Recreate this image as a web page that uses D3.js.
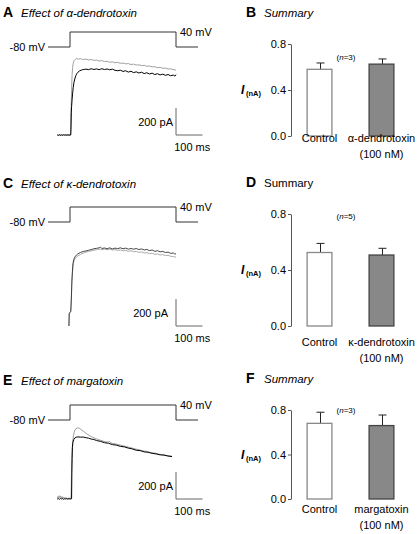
<!DOCTYPE html>
<html><head><meta charset="utf-8">
<script src="https://cdn.jsdelivr.net/npm/d3@7"></script>
<style>body{margin:0;background:#fff}svg{display:block}text{font-family:"Liberation Sans",Arial,sans-serif}</style>
</head><body>
<svg id="c" width="419" height="534"></svg>
<script>
// ---------- DATA ----------
// Voltage command (time ms, mV)
const voltageTime = [-83, 0, 0, 400, 400, 483];
const voltageMv   = [-80, -80, 40, 40, -80, -80];

// Current traces [time ms, pA]
const currentA_gray = [[-48,1],[-36,-1],[-24,1],[-12,-1],[0,1],[2,0],[3,160],[4,165],[5,250],[6,330],[7,400],[8,450],[10,500],[12,530],[15,550],[20,560],[26,566],[32,562],[40,565],[50,559],[60,562],[70,556],[80,559],[90,553],[100,555],[110,548],[120,551],[130,544],[140,546],[150,539],[160,542],[170,535],[180,538],[190,531],[200,533],[210,527],[220,529],[230,522],[240,525],[250,518],[260,520],[270,514],[280,516],[290,509],[300,511],[310,504],[320,506],[330,499],[340,501],[350,494],[360,496],[370,489],[380,490],[390,484],[400,481]];
const currentA_black = [[-48,0],[-44,-3],[-40,2],[-36,-2],[-32,1],[-28,-3],[-24,2],[-20,-1],[-16,1],[-12,-2],[-8,2],[-4,-1],[0,0],[3,1],[4,60],[5,170],[6,210],[8,265],[10,310],[12,350],[15,390],[18,415],[22,440],[26,455],[30,465],[36,475],[42,480],[50,485],[60,488],[70,484],[80,491],[90,485],[100,490],[110,484],[120,491],[130,485],[140,489],[150,483],[160,488],[170,479],[180,476],[190,480],[200,471],[210,476],[220,466],[230,472],[240,462],[250,468],[260,459],[270,465],[280,455],[290,461],[300,452],[310,458],[320,448],[330,454],[340,445],[350,451],[360,442],[370,448],[380,439],[390,444],[396,436],[400,447]];
const currentC_gray = [[-4,0],[-3,90],[0,98],[3,105],[5,190],[7,310],[9,385],[11,440],[14,475],[18,495],[24,510],[30,520],[40,530],[50,540],[60,547],[70,552],[80,557],[90,562],[100,565],[110,570],[120,565],[130,570],[140,565],[150,569],[160,563],[170,566],[180,560],[190,564],[200,557],[210,560],[220,553],[230,557],[240,550],[250,553],[260,545],[270,549],[280,541],[290,544],[300,536],[310,539],[320,531],[330,534],[340,526],[350,529],[360,521],[370,524],[380,516],[390,515],[400,509]];
const currentC_black = [[-4,0],[-3,95],[0,100],[3,110],[5,200],[7,330],[9,400],[11,460],[14,490],[18,510],[24,525],[30,535],[40,545],[50,552],[60,556],[70,561],[80,566],[90,572],[100,575],[110,579],[115,584],[120,574],[130,578],[140,572],[150,579],[160,571],[170,577],[180,573],[190,579],[200,572],[210,577],[220,569],[230,574],[240,569],[250,574],[260,566],[270,571],[280,563],[290,567],[300,558],[310,563],[320,553],[330,558],[340,549],[350,553],[360,544],[370,547],[380,538],[390,541],[396,532],[400,536]];
const currentE_gray = [[-48,5],[-45,20],[-43,8],[-40,25],[-38,10],[-35,22],[-32,6],[-30,18],[-27,5],[-24,15],[-21,4],[-18,12],[-15,3],[-12,10],[-8,2],[-4,8],[0,3],[4,5],[5,100],[6,250],[8,350],[10,420],[13,470],[17,505],[22,520],[28,527],[35,524],[45,510],[55,495],[65,481],[75,468],[85,458],[95,449],[110,438],[125,429],[140,421],[150,426],[155,414],[170,409],[185,401],[200,395],[215,387],[230,380],[245,371],[260,365],[275,357],[290,352],[305,344],[320,340],[335,332],[350,329],[365,322],[375,321],[385,316]];
const currentE_black = [[-48,0],[-44,3],[-40,-2],[-36,4],[-32,0],[-28,3],[-24,-2],[-20,2],[-16,0],[-12,3],[-8,-1],[-4,2],[0,0],[4,1],[6,2],[7,180],[8,300],[9,380],[11,420],[14,440],[18,452],[24,458],[30,460],[40,458],[50,459],[60,454],[70,451],[80,444],[90,441],[100,433],[115,427],[130,417],[145,413],[160,403],[175,399],[190,390],[205,386],[220,377],[235,371],[250,361],[265,358],[280,349],[295,346],[310,338],[325,334],[340,327],[355,325],[370,318],[385,314]];

// Scale bars
const scaleBarPa = 200, scaleBarMs = 100;

// Summary bar charts
const categoriesB = ["Control", "α-dendrotoxin"];
const meansB = [0.58, 0.625];
const semB = [0.055, 0.045];
const categoriesD = ["Control", "κ-dendrotoxin"];
const meansD = [0.525, 0.507];
const semD = [0.065, 0.048];
const categoriesF = ["Control", "margatoxin"];
const meansF = [0.68, 0.66];
const semF = [0.10, 0.095];
const tickValues = [0.0, 0.4, 0.8];
const nLabels = ["3", "5", "3"];

// ---------- DRAW ----------
const svg = d3.select("#c");
const FONT = "11px";

function title(x, y, letter, text, italic) {
  svg.append("text").attr("x", x).attr("y", y).attr("font-size", "14px").attr("font-weight", "bold").text(letter);
  svg.append("text").attr("x", x + 18).attr("y", y).attr("font-size", "11.5px")
     .attr("font-style", italic ? "italic" : "normal").text(text);
}

function tracePanel(cfg) {
  const x = d3.scaleLinear().domain([0, 400]).range([70, 176]);
  const yv = d3.scaleLinear().domain([-80, 40]).range([cfg.vBase, cfg.vBase - 15]);
  const yi = d3.scaleLinear().domain([0, 200]).range([cfg.iBase, cfg.iBase - 27]);
  const vdata = voltageTime.map((t, i) => [t, voltageMv[i]]);
  svg.append("path").datum(vdata)
    .attr("d", d3.line().x(d => x(d[0])).y(d => yv(d[1])))
    .attr("fill", "none").attr("stroke", "#333").attr("stroke-width", 1);
  svg.append("text").attr("x", 45).attr("y", yv(-80) + 4).attr("text-anchor", "end").attr("font-size", FONT).text("-80 mV");
  svg.append("text").attr("x", 180).attr("y", yv(40) + 4).attr("font-size", FONT).text("40 mV");
  const line = d3.line().x(d => x(d[0])).y(d => yi(d[1]));
  cfg.traces.forEach(tr => {
    svg.append("path").datum(tr.data).attr("d", line)
      .attr("fill", "none").attr("stroke", tr.color).attr("stroke-width", tr.w).attr("stroke-linejoin", "round");
  });
  svg.append("path").datum([[400, scaleBarPa], [400, 0], [400 + scaleBarMs, 0]])
    .attr("d", line).attr("fill", "none").attr("stroke", "#666").attr("stroke-width", 1);
  svg.append("text").attr("x", cfg.paRight).attr("y", yi(scaleBarPa / 2) + 4).attr("text-anchor", "end")
    .attr("font-size", FONT).text(scaleBarPa + " pA");
  svg.append("text").attr("x", x(400 + scaleBarMs / 2) + 3).attr("y", yi(0) + 16).attr("text-anchor", "middle")
    .attr("font-size", FONT).text(scaleBarMs + " ms");
}

function barPanel(cfg) {
  const x = d3.scaleBand().domain(cfg.cats).range([291, 410]).paddingInner(0.6).paddingOuter(0.26);
  const y = d3.scaleLinear().domain([0, 0.8]).range([cfg.y0, cfg.y8]);
  const ax = svg.append("g").attr("transform", "translate(291,0)")
    .call(d3.axisLeft(y).tickValues(tickValues).tickFormat(d3.format(".1f")).tickSize(3).tickPadding(2).tickSizeOuter(0));
  ax.select(".domain").attr("stroke", "#555");
  ax.selectAll(".tick line").attr("stroke", "#555");
  ax.selectAll(".tick text").attr("font-size", FONT).attr("fill", "#000").attr("font-family", "Liberation Sans, Arial, sans-serif");
  const yl = y(0.4);
  svg.append("text").attr("x", 241).attr("y", yl + 4).attr("font-size", "12px").attr("font-weight", "bold").attr("font-style", "italic").text("I");
  svg.append("text").attr("x", 246).attr("y", yl + 6).attr("font-size", "7.5px").attr("font-weight", "bold").text("(nA)");
  const fills = ["#fff", "#888"], strokes = ["#888", "#444"];
  cfg.cats.forEach((c, i) => {
    const cx = x(c) + x.bandwidth() / 2;
    svg.append("line").attr("x1", cx + 1).attr("x2", cx + 1).attr("y1", y(cfg.means[i])).attr("y2", y(cfg.means[i] + cfg.sem[i])).attr("stroke", "#222");
    svg.append("line").attr("x1", cx - 3).attr("x2", cx + 5).attr("y1", y(cfg.means[i] + cfg.sem[i])).attr("y2", y(cfg.means[i] + cfg.sem[i])).attr("stroke", "#222");
    svg.append("rect").attr("x", x(c)).attr("y", y(cfg.means[i])).attr("width", x.bandwidth()).attr("height", y(0) - y(cfg.means[i]))
      .attr("fill", fills[i]).attr("stroke", strokes[i]).attr("stroke-width", 1.3);
    svg.append("text").attr("x", cx).attr("y", cfg.labY).attr("text-anchor", "middle").attr("font-size", FONT).text(c);
    if (i === 1) svg.append("text").attr("x", cx).attr("y", cfg.labY + 16).attr("text-anchor", "middle").attr("font-size", FONT).text("(100 nM)");
  });
  const n = svg.append("text").attr("x", 346).attr("y", cfg.nY).attr("text-anchor", "middle").attr("font-size", "8px");
  n.append("tspan").text("(");
  n.append("tspan").attr("font-style", "italic").text("n");
  n.append("tspan").text("=" + cfg.n + ")");
}

title(3, 17, "A", "Effect of α-dendrotoxin", true);
title(3, 188, "C", "Effect of κ-dendrotoxin", true);
title(3, 385, "E", "Effect of margatoxin", true);
title(246, 17, "B", "Summary", true);
title(246, 187, "D", "Summary", false);
title(246, 383, "F", "Summary", true);

tracePanel({vBase: 47, iBase: 135, paRight: 173, traces: [
  {data: currentA_gray, color: "#a0a0a0", w: 1},
  {data: currentA_black, color: "#000", w: 1}]});
tracePanel({vBase: 222, iBase: 326, paRight: 168, traces: [
  {data: currentC_gray, color: "#aaa", w: 1},
  {data: currentC_black, color: "#333", w: 0.9}]});
tracePanel({vBase: 420, iBase: 499, paRight: 173, traces: [
  {data: currentE_gray, color: "#a0a0a0", w: 1},
  {data: currentE_black, color: "#000", w: 1}]});

barPanel({cats: categoriesB, means: meansB, sem: semB, y0: 136, y8: 44, labY: 142, nY: 60, n: nLabels[0]});
barPanel({cats: categoriesD, means: meansD, sem: semD, y0: 326, y8: 214, labY: 346, nY: 219, n: nLabels[1]});
barPanel({cats: categoriesF, means: meansF, sem: semF, y0: 499, y8: 410, labY: 513, nY: 413, n: nLabels[2]});
</script>
</body></html>
